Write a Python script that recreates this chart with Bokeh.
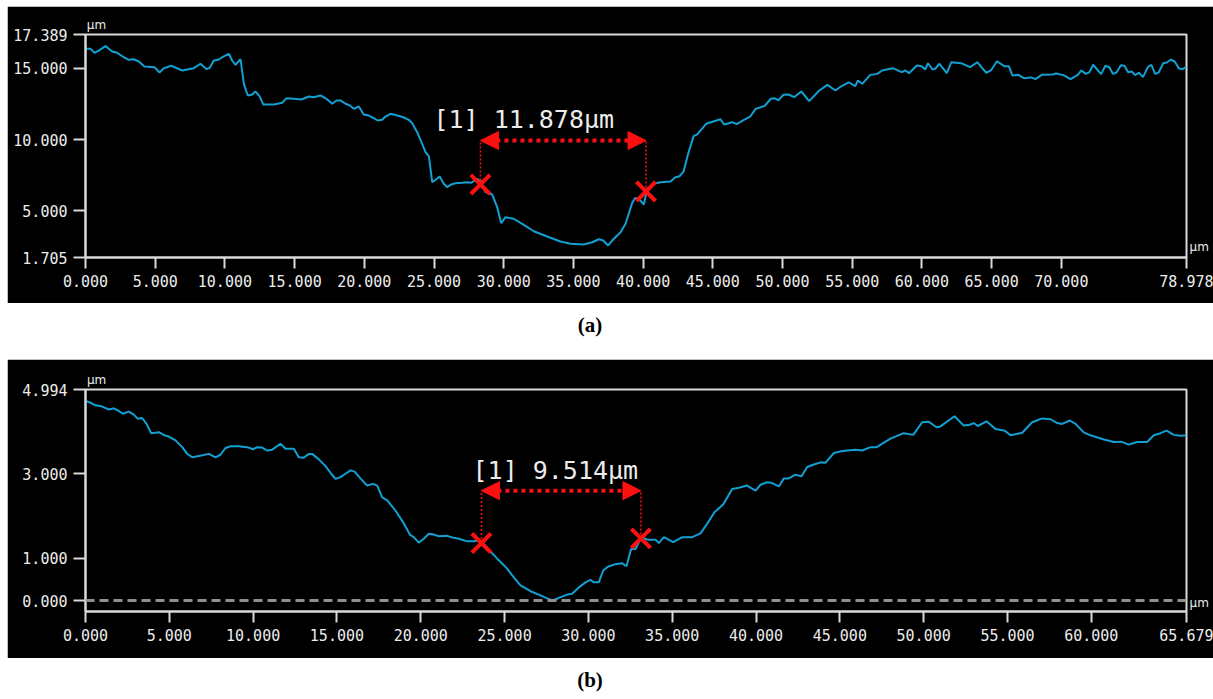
from bokeh.plotting import figure
from bokeh.models import (Range1d, FixedTicker, CustomJSTickFormatter, Label, Span,
                          Arrow, NormalHead, Div, LinearAxis)
from bokeh.layouts import column
from bokeh.embed import file_html
from bokeh.resources import INLINE

# ---------------- profile (a) ----------------
pos_a = [
    0.07, 0.36, 0.65, 0.95, 1.43, 1.92, 2.27, 2.75, 3.11, 3.46,
    3.82, 4.23, 4.95, 5.31, 5.62, 6.15, 6.94, 7.77, 8.25, 8.68,
    8.92, 9.20, 9.52, 9.81, 10.28, 10.52, 10.76, 11.12, 11.36, 11.64,
    11.96, 12.19, 12.48, 12.75, 13.51, 14.11, 14.42, 14.94, 15.49, 16.02,
    16.38, 16.86, 17.34, 17.70, 18.00, 18.29, 18.65, 18.96, 19.25, 19.60,
    19.96, 20.32, 20.64, 20.97, 21.28, 21.52, 21.88, 22.36, 22.79, 23.19,
    23.44, 23.79, 24.15, 24.39, 24.63, 24.87, 25.11, 25.41, 25.70, 25.95,
    26.23, 26.54, 27.02, 27.38, 27.67, 28.10, 28.33, 28.69, 29.17, 29.53,
    29.82, 30.13, 30.72, 31.44, 32.16, 33.12, 34.07, 34.79, 35.74, 36.35,
    36.82, 37.14, 37.49, 37.78, 38.38, 38.74, 39.22, 39.45, 39.81, 40.05,
    40.29, 40.77, 41.25, 41.96, 42.32, 42.61, 42.90, 43.23, 43.62, 43.88,
    44.52, 45.03, 45.55, 45.81, 46.40, 46.71, 47.23, 47.69, 48.07, 48.72,
    49.16, 49.42, 49.70, 50.06, 50.44, 50.83, 51.35, 51.91, 52.64, 53.22,
    53.79, 54.18, 54.75, 55.21, 55.41, 55.72, 56.29, 56.80, 57.14, 57.92,
    58.55, 58.81, 59.07, 59.64, 59.98, 60.23, 60.44, 60.75, 60.95, 61.26,
    61.78, 62.11, 62.81, 63.45, 63.97, 64.61, 64.95, 65.38, 65.90, 66.23,
    66.49, 66.93, 67.31, 67.83, 68.14, 68.60, 69.38, 69.63, 70.15, 70.66,
    71.18, 71.44, 71.75, 72.00, 72.28, 72.85, 73.16, 73.45, 73.70, 73.96,
    74.27, 74.53, 74.79, 75.05, 75.30, 75.56, 75.86, 76.20, 76.46, 76.72,
    76.98, 77.31, 77.56, 77.87, 78.13, 78.44, 78.70, 78.98,
]
height_a = [
    16.38, 16.38, 16.10, 16.26, 16.57, 16.19, 16.10, 15.79, 15.61, 15.65,
    15.49, 15.14, 15.09, 14.72, 15.02, 15.19, 14.86, 15.02, 15.33, 14.95,
    15.05, 15.56, 15.61, 15.79, 16.03, 15.56, 15.26, 15.65, 13.92, 13.10,
    13.17, 13.38, 13.05, 12.47, 12.47, 12.59, 12.91, 12.87, 12.82, 13.03,
    12.98, 13.10, 12.82, 12.52, 12.75, 12.75, 12.52, 12.40, 12.16, 12.33,
    11.76, 11.69, 11.53, 11.34, 11.39, 11.62, 11.81, 11.69, 11.57, 11.39,
    11.15, 10.52, 9.70, 9.11, 8.81, 7.00, 7.17, 7.40, 6.89, 6.65,
    6.84, 6.93, 6.96, 7.00, 6.96, 7.24, 7.07, 6.30, 6.14, 5.24,
    4.12, 4.54, 4.43, 4.00, 3.55, 3.18, 2.83, 2.67, 2.62, 2.78,
    2.99, 2.90, 2.55, 2.90, 3.48, 4.08, 5.55, 5.90, 5.71, 5.43,
    6.54, 6.89, 7.00, 7.05, 7.35, 7.42, 7.75, 9.00, 10.24, 10.36,
    11.11, 11.27, 11.43, 11.06, 11.22, 11.08, 11.39, 11.62, 12.16, 12.37,
    12.87, 12.91, 12.75, 13.15, 13.17, 12.98, 13.38, 12.70, 13.45, 13.85,
    13.45, 13.73, 14.03, 13.75, 14.15, 13.92, 14.55, 14.62, 14.86, 15.02,
    14.74, 14.86, 14.67, 15.21, 15.16, 14.93, 15.37, 14.93, 14.98, 15.33,
    14.67, 15.44, 15.37, 15.09, 15.44, 14.70, 14.86, 15.51, 15.16, 15.16,
    14.51, 14.55, 14.32, 14.37, 14.25, 14.55, 14.58, 14.65, 14.53, 14.25,
    14.55, 14.86, 14.62, 14.72, 15.26, 14.60, 15.19, 15.09, 14.62, 14.72,
    15.23, 15.19, 14.74, 14.79, 14.53, 14.70, 14.39, 15.09, 15.26, 14.62,
    14.72, 15.37, 15.42, 15.63, 15.49, 15.00, 14.95, 15.14,
]
xlim_a = (0.0, 78.978)
ylim_a = (1.705, 17.389)
xticks_a = [0, 5, 10, 15, 20, 25, 30, 35, 40, 45, 50, 55, 60, 65, 70, 78.978]
yticks_a = [1.705, 5, 10, 15, 17.389]
unit_top_a = 0.79            # where the vertical-unit caption sits along x
unit_right_a = 2.44          # where the horizontal-unit caption sits along y
mark_x0_a = 28.33            # first cursor position (µm)
width_a = 11.878             # measured width between cursors (µm)
mark_h_a = [6.84, 6.35]      # profile height at the two cursors
arrow_h_a = 9.93
label_pos_a = (24.96, 11.41)

# ---------------- profile (b) ----------------
pos_b = [
    0.06, 0.30, 0.60, 1.00, 1.39, 1.69, 1.93, 2.23, 2.58, 2.88,
    3.12, 3.38, 3.64, 3.92, 4.41, 4.71, 4.97, 5.37, 5.77, 6.07,
    6.37, 6.76, 7.36, 7.76, 8.05, 8.35, 8.65, 9.14, 9.65, 10.00,
    10.24, 10.54, 10.84, 11.14, 11.63, 11.93, 12.43, 12.72, 13.02, 13.32,
    13.52, 13.92, 14.32, 14.66, 14.91, 15.21, 15.51, 15.81, 16.05, 16.40,
    16.80, 17.16, 17.40, 17.70, 18.00, 18.49, 18.95, 19.35, 19.58, 19.88,
    20.18, 20.48, 20.78, 21.08, 21.58, 21.88, 22.27, 22.77, 23.16, 23.46,
    23.76, 24.06, 24.56, 25.05, 25.55, 25.95, 26.55, 27.14, 27.54, 27.90,
    28.34, 28.74, 29.03, 29.43, 29.83, 30.12, 30.32, 30.62, 30.88, 31.16,
    31.52, 32.02, 32.27, 32.55, 32.81, 33.01, 33.21, 33.51, 34.00, 34.20,
    34.50, 35.06, 35.60, 36.19, 36.69, 37.09, 37.52, 38.04, 38.58, 38.97,
    39.47, 39.97, 40.27, 40.67, 40.96, 41.36, 41.66, 41.96, 42.35, 42.71,
    43.05, 43.45, 43.85, 44.14, 44.64, 45.04, 45.93, 46.33, 46.83, 47.19,
    48.02, 48.81, 49.38, 49.91, 50.31, 50.76, 51.00, 51.84, 52.39, 52.75,
    52.99, 53.23, 53.75, 54.29, 54.84, 55.18, 55.88, 56.47, 57.07, 57.57,
    57.97, 58.26, 58.72, 59.06, 59.55, 59.95, 60.75, 61.34, 61.78, 62.24,
    62.74, 63.33, 63.73, 64.13, 64.49, 64.92, 65.32, 65.68,
]
height_b = [
    4.72, 4.68, 4.62, 4.59, 4.52, 4.55, 4.50, 4.42, 4.47, 4.40,
    4.30, 4.32, 4.18, 3.96, 3.98, 3.91, 3.88, 3.79, 3.63, 3.47,
    3.39, 3.42, 3.47, 3.39, 3.45, 3.61, 3.65, 3.65, 3.63, 3.58,
    3.63, 3.62, 3.55, 3.57, 3.71, 3.59, 3.59, 3.39, 3.38, 3.47,
    3.47, 3.34, 3.18, 3.00, 2.88, 2.92, 3.00, 3.08, 3.05, 2.89,
    2.72, 2.76, 2.72, 2.44, 2.37, 2.13, 1.85, 1.56, 1.50, 1.37,
    1.46, 1.58, 1.56, 1.52, 1.53, 1.49, 1.46, 1.40, 1.40, 1.42,
    1.34, 1.20, 0.99, 0.80, 0.55, 0.36, 0.22, 0.12, 0.05, 0.00,
    0.08, 0.14, 0.16, 0.31, 0.43, 0.49, 0.43, 0.43, 0.71, 0.80,
    0.85, 0.88, 0.81, 1.22, 1.22, 1.38, 1.50, 1.44, 1.44, 1.36,
    1.50, 1.38, 1.50, 1.50, 1.59, 1.82, 2.09, 2.27, 2.64, 2.67,
    2.72, 2.60, 2.74, 2.80, 2.78, 2.70, 2.89, 2.89, 2.98, 2.94,
    3.16, 3.22, 3.27, 3.26, 3.49, 3.53, 3.57, 3.55, 3.63, 3.63,
    3.83, 3.96, 3.92, 4.22, 4.23, 4.10, 4.12, 4.36, 4.14, 4.16,
    4.20, 4.13, 4.24, 4.06, 4.02, 3.91, 3.97, 4.22, 4.31, 4.29,
    4.20, 4.18, 4.26, 4.18, 3.98, 3.91, 3.81, 3.75, 3.76, 3.69,
    3.75, 3.75, 3.91, 3.96, 4.02, 3.92, 3.90, 3.91,
]
xlim_b = (0.0, 65.679)
ylim_b = (-0.26, 4.994)
xticks_b = [0, 5, 10, 15, 20, 25, 30, 35, 40, 45, 50, 55, 60, 65.679]
yticks_b = [0, 1, 3, 4.994]
unit_top_b = 0.66
unit_right_b = -0.05
mark_x0_b = 23.62
width_b = 9.514
mark_h_b = [1.36, 1.47]
arrow_h_b = 2.60
label_pos_b = (23.09, 3.08)

# ---------------- styling ----------------
LINE = "#12a0d3"
RED = "#ff1010"
AX = "#dadada"
TXT = "#ececec"
MONO = "DejaVu Sans Mono"


def unit_axis(ticks):
    """An axis with no line or ticks that only prints the unit 'µm' at one spot."""
    ax = LinearAxis(ticker=FixedTicker(ticks=ticks),
                    formatter=CustomJSTickFormatter(code="return 'µm';"))
    ax.axis_line_color = None
    ax.major_tick_line_color = None
    ax.minor_tick_line_color = None
    ax.major_tick_out = 0
    ax.major_tick_in = 0
    ax.major_label_standoff = 3
    ax.major_label_text_color = TXT
    ax.major_label_text_font = "DejaVu Sans"
    ax.major_label_text_font_size = "12px"
    return ax


def profile_panel(pos, h, xlim, ylim, xticks, yticks, unit_top, unit_right, x0, width,
                  mark_h, arrow_h, label_pos, height, top, bottom, zero_line):
    p = figure(width=1206, height=height, x_range=Range1d(*xlim), y_range=Range1d(*ylim),
               output_backend="svg", toolbar_location=None,
               min_border_left=78, min_border_right=27,
               min_border_top=top, min_border_bottom=bottom)
    p.background_fill_color = "black"
    p.border_fill_color = "black"
    p.outline_line_color = AX
    p.outline_line_width = 2
    p.grid.visible = False

    for ax, ticks in ((p.xaxis[0], xticks), (p.yaxis[0], yticks)):
        ax.ticker = FixedTicker(ticks=ticks)
        ax.formatter = CustomJSTickFormatter(code="return tick.toFixed(3);")
        ax.axis_line_color = AX
        ax.axis_line_width = 2
        ax.major_tick_line_color = AX
        ax.major_tick_line_width = 2
        ax.major_tick_in = 0
        ax.minor_tick_line_color = None
        ax.major_label_text_color = TXT
        ax.major_label_text_font = MONO
        ax.major_label_text_font_size = "15px"
        ax.major_label_standoff = 6
    p.xaxis[0].major_tick_out = 11
    p.yaxis[0].major_tick_out = 12

    # unit captions: above the frame's top-left corner and beside its bottom-right corner
    p.add_layout(unit_axis([unit_top]), "above")
    p.add_layout(unit_axis([unit_right]), "right")

    if zero_line:
        p.add_layout(Span(location=0, dimension="width", line_color="#8f8f8f",
                          line_width=3, line_dash="9 5"))

    p.line(pos, h, line_color=LINE, line_width=2)

    # measurement cursors
    mx = [x0, x0 + width]
    p.segment(x0=mx, y0=mark_h, x1=mx, y1=[arrow_h, arrow_h], line_color=RED,
              line_width=1.5, line_dash="2 2")
    p.add_layout(Arrow(x_start=mx[0], y_start=arrow_h, x_end=mx[1], y_end=arrow_h,
                       line_color=RED, line_width=4, line_dash="4 4",
                       start=NormalHead(size=18, fill_color=RED, line_color=RED),
                       end=NormalHead(size=18, fill_color=RED, line_color=RED)))
    p.scatter(mx, mark_h, marker="x", size=27, line_width=4, line_color=RED)
    p.add_layout(Label(x=label_pos[0], y=label_pos[1], text=f"[1] {width:.3f}µm",
                       text_baseline="middle", text_align="left", text_color=TXT,
                       text_font=MONO, text_font_size="25px"))
    return p


pa = profile_panel(pos_a, height_a, xlim_a, ylim_a, xticks_a, yticks_a, unit_top_a,
                   unit_right_a, mark_x0_a, width_a, mark_h_a, arrow_h_a, label_pos_a,
                   297, 28, 46, False)
pb = profile_panel(pos_b, height_b, xlim_b, ylim_b, xticks_b, yticks_b, unit_top_b,
                   unit_right_b, mark_x0_b, width_b, mark_h_b, arrow_h_b, label_pos_b,
                   299, 30, 47, True)
pa.margin = (6, 0, 0, 7)
pb.margin = (0, 0, 0, 7)

cap_style = {"text-align": "center", "font-family": "Liberation Serif",
             "font-size": "21px", "font-weight": "bold", "color": "black",
             "padding-top": "7px"}
cap_a = Div(text="(a)", width=1180, height=56, styles=cap_style, margin=(0, 0, 0, 0))
cap_b = Div(text="(b)", width=1180, height=41, styles=cap_style, margin=(0, 0, 0, 0))

page = column(pa, cap_a, pb, cap_b, spacing=0)
open("out.html", "w").write(file_html(page, INLINE))
